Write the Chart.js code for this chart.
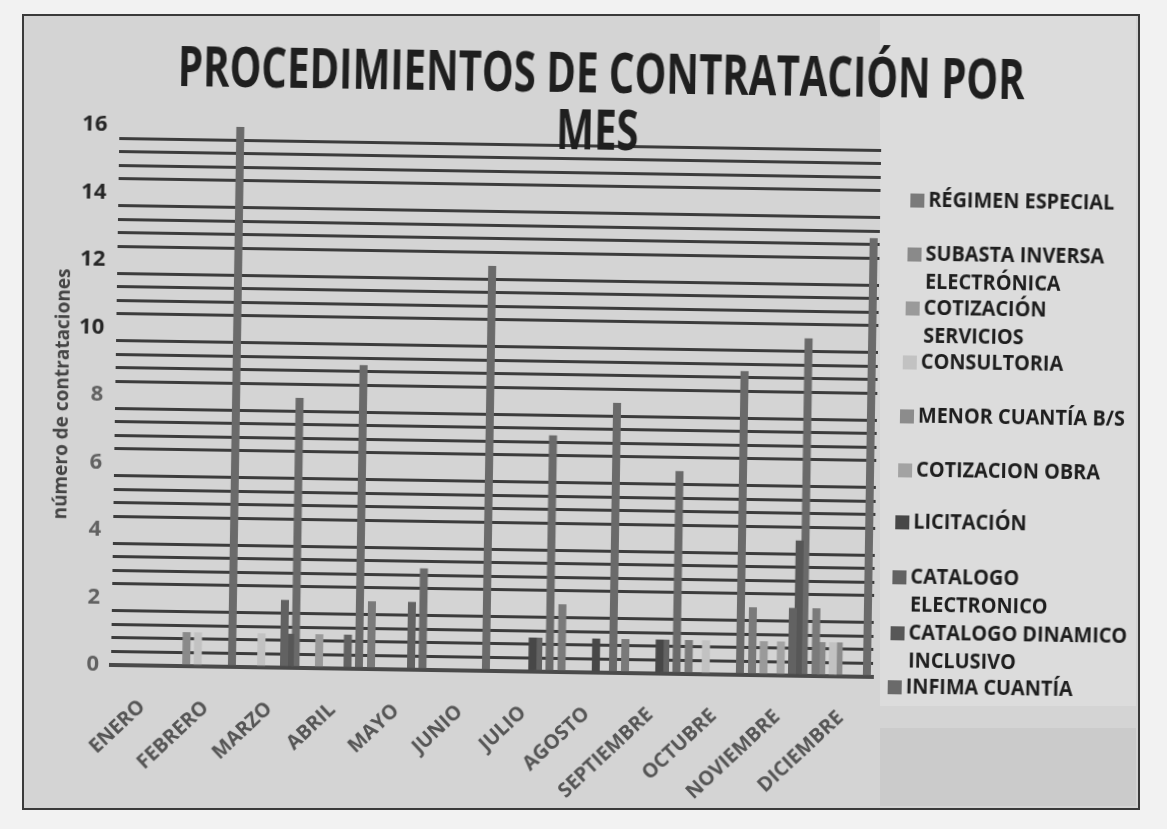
<!DOCTYPE html>
<html>
<head>
<meta charset="utf-8">
<script src="https://cdn.jsdelivr.net/npm/chart.js@4.4.1/dist/chart.umd.min.js"></script>
<style>
  html, body { margin: 0; padding: 0; width: 1167px; height: 829px; overflow: hidden; background: #f2f2f2; }
  #frame { position: absolute; left: 22px; top: 14px; width: 1114px; height: 792px; border: 2px solid #3a3a3a; background: #d4d4d4; }
  #legendPanel { position: absolute; left: 880px; top: 16px; width: 256px; height: 690px; background: #dcdcdc; }
  #shade { position: absolute; left: 880px; top: 728px; width: 256px; height: 78px; background: #cbcbcb; }
  #rot { position: absolute; left: 0; top: 0; width: 1167px; height: 829px; transform: rotate(0.9deg); transform-origin: 113px 663px; }
  canvas { position: absolute; left: 0; top: 0; }
</style>
</head>
<body>
<div id="frame"></div>
<div id="legendPanel"></div>
<div id="shade"></div>
<div id="rot"><canvas id="c" width="1167" height="829"></canvas></div>
<script>
// ---- data ----
const months = ['ENERO','FEBRERO','MARZO','ABRIL','MAYO','JUNIO','JULIO','AGOSTO','SEPTIEMBRE','OCTUBRE','NOVIEMBRE','DICIEMBRE'];
const seriesNames = ['RÉGIMEN ESPECIAL','SUBASTA INVERSA ELECTRÓNICA','COTIZACIÓN SERVICIOS','CONSULTORIA','MENOR CUANTÍA B/S','COTIZACION OBRA','LICITACIÓN','CATALOGO ELECTRONICO','CATALOGO DINAMICO INCLUSIVO','INFIMA CUANTÍA'];
const regimenEspecial      = [0,0,0,0,2,0,0,2,1,1,2,2];
const subastaInversa       = [0,1,0,0,0,0,0,0,0,0,0,1];
const cotizacionServicios  = [0,0,0,1,0,0,0,0,0,0,1,0];
const consultoria          = [0,1,1,0,0,0,0,0,0,1,0,1];
const menorCuantia         = [0,0,0,0,0,0,0,0,0,0,0,1];
const cotizacionObra       = [0,0,0,0,0,0,0,0,0,0,1,0];
const licitacion           = [0,0,0,0,0,0,1,1,1,0,0,0];
const catalogoElectronico  = [0,0,2,1,2,0,1,0,1,0,2,0];
const catalogoDinamico     = [0,0,1,0,0,0,0,0,0,0,4,0];
const infimaCuantia        = [0,16,8,9,3,12,7,8,6,9,10,13];
const yTickLabels = [0,2,4,6,8,10,12,14,16];
const chartTitleLines = ['PROCEDIMIENTOS DE CONTRATACIÓN POR','MES'];
const yAxisTitle = 'número de contrataciones';
const legendLines = [
  ['RÉGIMEN ESPECIAL'],
  ['SUBASTA INVERSA','ELECTRÓNICA'],
  ['COTIZACIÓN','SERVICIOS'],
  ['CONSULTORIA'],
  ['MENOR CUANTÍA B/S'],
  ['COTIZACION OBRA'],
  ['LICITACIÓN'],
  ['CATALOGO','ELECTRONICO'],
  ['CATALOGO DINAMICO','INCLUSIVO'],
  ['INFIMA CUANTÍA']
];

// ---- style ----
const seriesValues = [regimenEspecial, subastaInversa, cotizacionServicios, consultoria, menorCuantia,
                      cotizacionObra, licitacion, catalogoElectronico, catalogoDinamico, infimaCuantia];
const seriesColors = ['#7a7a7a','#8a8a8a','#9a9a9a','#c2c2c2','#8c8c8c','#a3a3a3','#474747','#626262','#575757','#6a6a6a'];
const legendY = [188, 242, 296, 350, 404, 458, 510, 565, 621, 675];
const legendX = [903, 901, 900, 898, 896, 895, 893, 891, 890, 888];
const FONT = '"Open Sans", "DejaVu Sans", sans-serif';

const datasets = seriesNames.map((name, i) => ({
  label: name,
  data: seriesValues[i],
  backgroundColor: seriesColors[i],
  borderWidth: 0,
  categoryPercentage: 0.9,
  barPercentage: 1.4
}));

const titlePlugin = {
  id: 'scanTitle',
  afterDraw(chart) {
    const ctx = chart.ctx;
    ctx.save();
    ctx.font = 'bold 56px ' + FONT;
    ctx.fillStyle = '#1f1f1f';
    ctx.textAlign = 'center';
    ctx.textBaseline = 'alphabetic';
    const sx = 847 / ctx.measureText(chartTitleLines[0]).width;
    const pos = [[592, 85], [589, 142]];
    chartTitleLines.forEach((t, i) => {
      ctx.save();
      ctx.translate(pos[i][0], pos[i][1]);
      ctx.scale(sx, 1);
      ctx.fillText(t, 0, 0);
      ctx.restore();
    });
    ctx.restore();
  }
};

const legendPlugin = {
  id: 'sideLegend',
  afterDraw(chart) {
    const ctx = chart.ctx;
    ctx.save();
    ctx.font = 'bold 21px ' + FONT;
    const sx = 186 / ctx.measureText(legendLines[0][0]).width;
    ctx.textBaseline = 'middle';
    ctx.textAlign = 'left';
    chart.data.datasets.forEach((ds, i) => {
      const x = legendX[i], y = legendY[i];
      ctx.fillStyle = ds.backgroundColor;
      ctx.fillRect(x, y - 7, 14, 14);
      ctx.fillStyle = '#1e1e1e';
      legendLines[i].forEach((line, j) => {
        ctx.save();
        ctx.translate(x + 18, y + j * 28);
        ctx.scale(sx, 1);
        ctx.fillText(line, 0, 0);
        ctx.restore();
      });
    });
    ctx.restore();
  }
};

new Chart(document.getElementById('c'), {
  type: 'bar',
  data: { labels: months, datasets },
  options: {
    responsive: false,
    animation: false,
    layout: { padding: { left: 0, right: 294, top: 125, bottom: 11 } },
    plugins: {
      legend: { display: false },
      title: { display: false },
      tooltip: { enabled: false }
    },
    scales: {
      x: {
        type: 'category',
        offset: true,
        grid: { display: false },
        border: { display: true, color: '#4a4a4a', width: 4 },
        ticks: {
          autoSkip: false,
          minRotation: 44,
          maxRotation: 44,
          padding: 22,
          color: '#555555',
          font: { family: FONT, weight: 'bold', size: 20 }
        }
      },
      y: {
        min: 0,
        max: 16,
        border: { display: false },
        grid: {
          drawTicks: false,
          lineWidth: 3,
          color: (c) => {
            const v = c.tick ? c.tick.value : 0;
            const r = v / 2;
            return Math.abs(r - Math.round(r)) < 1e-6 ? 'rgba(0,0,0,0)' : '#3c3c3c';
          }
        },
        ticks: {
          stepSize: 0.4,
          maxTicksLimit: 100,
          autoSkip: false,
          padding: 12,
          color: (c) => (c.tick && c.tick.value >= 9.9) ? '#262626' : '#616161',
          font: { family: FONT, weight: 'bold', size: 22 },
          callback: (v) => {
            const hit = yTickLabels.find(t => Math.abs(t - v) < 1e-6);
            return hit === undefined ? '' : String(hit);
          }
        },
        title: {
          display: true,
          text: yAxisTitle,
          color: '#444444',
          font: { family: FONT, weight: 'bold', size: 19 },
          padding: { top: 47, bottom: -8 }
        }
      }
    }
  },
  plugins: [titlePlugin, legendPlugin]
});
</script>
</body>
</html>
